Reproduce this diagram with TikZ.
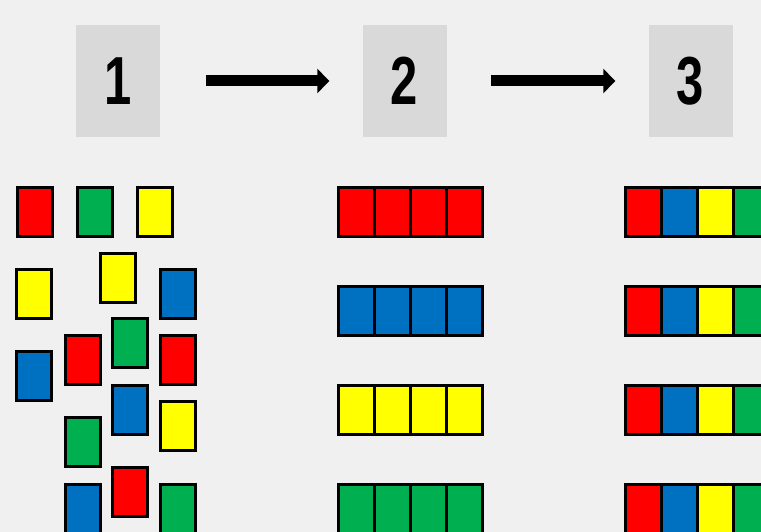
\documentclass[tikz,border=0pt]{standalone}
\usepackage{fontspec}
\usetikzlibrary{arrows.meta}
\newfontfamily\numfont{Liberation Sans}
\newcommand\stagenum[1]{\scalebox{.72}[1]{#1}}
\definecolor{paper}{RGB}{240,240,240}
\definecolor{panel}{RGB}{217,217,217}
\definecolor{tilered}{RGB}{255,0,0}
\definecolor{tileblue}{RGB}{0,112,192}
\definecolor{tileyellow}{RGB}{255,255,0}
\definecolor{tilegreen}{RGB}{0,176,80}
\begin{document}
\begin{tikzpicture}[x=1pt,y=-1pt,line join=miter,
  stage/.style={fill=panel,minimum width=84pt,minimum height=112pt,inner sep=0pt,
    font=\numfont\bfseries\fontsize{68}{68}\selectfont},
  tile/.style={fill=#1,draw=black,line width=3pt,minimum width=35pt,minimum height=49pt,inner sep=0pt},
  cell/.style={fill=#1,draw=black,line width=3pt,minimum width=36pt,minimum height=49pt,inner sep=0pt},
  flow/.style={line width=11pt,-{Triangle[length=12pt,width=24pt]}}]
\useasboundingbox (0,0) rectangle (761,532);
\clip (0,0) rectangle (761,532);
\fill[paper] (0,0) rectangle (761,532);
% stages
\node[stage] (s1) at (118,81) {\stagenum{1}};
\node[stage] (s2) at (404.5,81) {\stagenum{2}};
\node[stage] (s3) at (690.5,81) {\stagenum{3}};
\draw[flow,shorten <=46pt,shorten >=33pt] (s1) -- (s2);
\draw[flow,shorten <=44.5pt,shorten >=33pt] (s2) -- (s3);
% loose tiles
\node[tile=tilered] (p1) at (34.5,212) {};
\node[tile=tilegreen] (p2) at (95,212) {};
\node[tile=tileyellow] (p3) at (154.5,212) {};
\node[tile=tileyellow] (p4) at (34,294) {};
\node[tile=tileyellow] (p5) at (118,278) {};
\node[tile=tileblue] (p6) at (177.5,294) {};
\node[tile=tileblue] (p7) at (34,376) {};
\node[tile=tilered] (p8) at (82.5,360) {};
\node[tile=tilegreen] (p9) at (130,343) {};
\node[tile=tilered] (p10) at (177.5,360) {};
\node[tile=tileblue] (p11) at (130,410) {};
\node[tile=tileyellow] (p12) at (177.5,426) {};
\node[tile=tilegreen] (p13) at (82.5,442) {};
\node[tile=tileblue] (p14) at (82.5,509) {};
\node[tile=tilered] (p15) at (130,492) {};
\node[tile=tilegreen] (p16) at (177.5,509) {};
% sorted by colour
\node[cell=tilered] (q11) at (356.5,212) {};
\node[cell=tilered] (q12) at (392.5,212) {};
\node[cell=tilered] (q13) at (428.5,212) {};
\node[cell=tilered] (q14) at (464.5,212) {};
\node[cell=tileblue] (q21) at (356.5,311) {};
\node[cell=tileblue] (q22) at (392.5,311) {};
\node[cell=tileblue] (q23) at (428.5,311) {};
\node[cell=tileblue] (q24) at (464.5,311) {};
\node[cell=tileyellow] (q31) at (356.5,410) {};
\node[cell=tileyellow] (q32) at (392.5,410) {};
\node[cell=tileyellow] (q33) at (428.5,410) {};
\node[cell=tileyellow] (q34) at (464.5,410) {};
\node[cell=tilegreen] (q41) at (356.5,509) {};
\node[cell=tilegreen] (q42) at (392.5,509) {};
\node[cell=tilegreen] (q43) at (428.5,509) {};
\node[cell=tilegreen] (q44) at (464.5,509) {};
% one of each colour
\node[cell=tilered] (r11) at (643.5,212) {};
\node[cell=tileblue] (r12) at (679.5,212) {};
\node[cell=tileyellow] (r13) at (715.5,212) {};
\node[cell=tilegreen] (r14) at (751.5,212) {};
\node[cell=tilered] (r21) at (643.5,311) {};
\node[cell=tileblue] (r22) at (679.5,311) {};
\node[cell=tileyellow] (r23) at (715.5,311) {};
\node[cell=tilegreen] (r24) at (751.5,311) {};
\node[cell=tilered] (r31) at (643.5,410) {};
\node[cell=tileblue] (r32) at (679.5,410) {};
\node[cell=tileyellow] (r33) at (715.5,410) {};
\node[cell=tilegreen] (r34) at (751.5,410) {};
\node[cell=tilered] (r41) at (643.5,509) {};
\node[cell=tileblue] (r42) at (679.5,509) {};
\node[cell=tileyellow] (r43) at (715.5,509) {};
\node[cell=tilegreen] (r44) at (751.5,509) {};
\end{tikzpicture}
\end{document}
